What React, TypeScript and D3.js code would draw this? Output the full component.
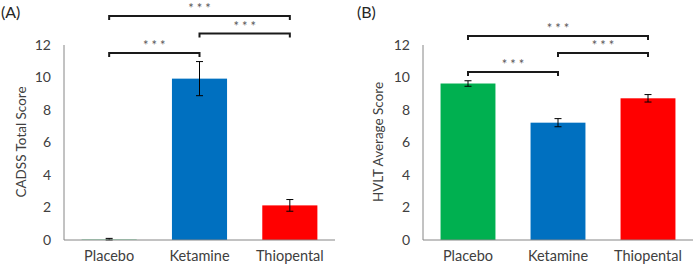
import React from "react";
import * as d3 from "d3";

const categories = ["Placebo", "Ketamine", "Thiopental"];
const cadssValues = [0.02, 9.93, 2.13];
const cadssErrors = [0.08, 1.05, 0.36];
const hvltValues = [9.63, 7.22, 8.72];
const hvltErrors = [0.17, 0.25, 0.23];
const yTicks = [0, 2, 4, 6, 8, 10, 12];
const barColorsA = ["#00B050", "#0070C0", "#FF0000"];
const barColorsB = ["#00B050", "#0070C0", "#FF0000"];
// comparisons: [fromIndex, toIndex, label]
const comparisonsA: [number, number, string][] = [
  [0, 2, "***"],
  [1, 2, "***"],
  [0, 1, "***"],
];
const comparisonsB: [number, number, string][] = [
  [0, 2, "***"],
  [1, 2, "***"],
  [0, 1, "***"],
];

const FONT = "Lato, 'Open Sans', sans-serif";

type PanelProps = {
  x0: number;
  x1: number;
  label: string;
  labelX: number;
  title: string;
  titleX: number;
  values: number[];
  errors: number[];
  colors: string[];
  comps: [number, number, string][];
  compY: number[];
};

function Panel(p: PanelProps) {
  const y = d3.scaleLinear().domain([0, 12]).range([240, 45]);
  const x = d3.scaleBand<string>().domain(categories).range([p.x0, p.x1]).paddingInner(0.39).paddingOuter(0.195);
  const bw = x.bandwidth();
  const cx = (i: number) => (x(categories[i]) as number) + bw / 2;
  return (
    <g>
      <text x={p.labelX} y={18} fontSize={16} fill="#262626" fontFamily={FONT}>{p.label}</text>
      {p.values.map((v, i) => (
        <rect key={i} x={x(categories[i])} y={y(v)} width={bw} height={y(0) - y(v)} fill={p.colors[i]} />
      ))}
      {p.values.map((v, i) => {
        const e = p.errors[i];
        const c = cx(i);
        return (
          <g key={"e" + i} stroke="#000" strokeWidth={1}>
            <line x1={c} x2={c} y1={y(v + e)} y2={y(Math.max(0, v - e))} />
            <line x1={c - 3.5} x2={c + 3.5} y1={y(v + e)} y2={y(v + e)} />
            <line x1={c - 3.5} x2={c + 3.5} y1={y(Math.max(0, v - e))} y2={y(Math.max(0, v - e))} />
          </g>
        );
      })}
      <line x1={p.x0} x2={p.x0} y1={y(12)} y2={y(0)} stroke="#868686" strokeWidth={1} />
      <line x1={p.x0} x2={p.x1} y1={y(0)} y2={y(0)} stroke="#868686" strokeWidth={1} />
      {yTicks.map((t) => (
        <text key={t} x={p.x0 - 13} y={y(t)} dy="0.35em" textAnchor="end" fontSize={14} fill="#404040" fontFamily={FONT}>{t}</text>
      ))}
      {categories.map((c, i) => (
        <text key={c} x={cx(i)} y={261} textAnchor="middle" fontSize={14.5} fill="#404040" fontFamily={FONT}>{c}</text>
      ))}
      <text transform={`translate(${p.titleX},142) rotate(-90)`} textAnchor="middle" fontSize={13.5} fill="#404040" fontFamily={FONT}>{p.title}</text>
      {p.comps.map(([a, b, lab], k) => {
        const yy = p.compY[k];
        const xa = cx(a);
        const xb = cx(b);
        return (
          <g key={"c" + k}>
            <path d={`M${xa},${yy + 4}V${yy}H${xb}V${yy + 4}`} fill="none" stroke="#1a1a1a" strokeWidth={2} />
            <text x={(xa + xb) / 2 + 1.5} y={yy - 3} textAnchor="middle" fontSize={13} fill="#595959" fontFamily={FONT} letterSpacing={3}>{lab}</text>
          </g>
        );
      })}
    </g>
  );
}

export default function App() {
  return (
    <svg width={695} height={270} style={{ position: "absolute", left: 0, top: 0, background: "#fff" }}>
      <Panel x0={64} x1={335} label="(A)" labelX={1} title="CADSS Total Score" titleX={26}
        values={cadssValues} errors={cadssErrors} colors={barColorsA} comps={comparisonsA} compY={[16, 33.5, 53]} />
      <Panel x0={423} x1={693} label="(B)" labelX={357} title="HVLT Average Score" titleX={383}
        values={hvltValues} errors={hvltErrors} colors={barColorsB} comps={comparisonsB} compY={[36, 53, 72]} />
    </svg>
  );
}
